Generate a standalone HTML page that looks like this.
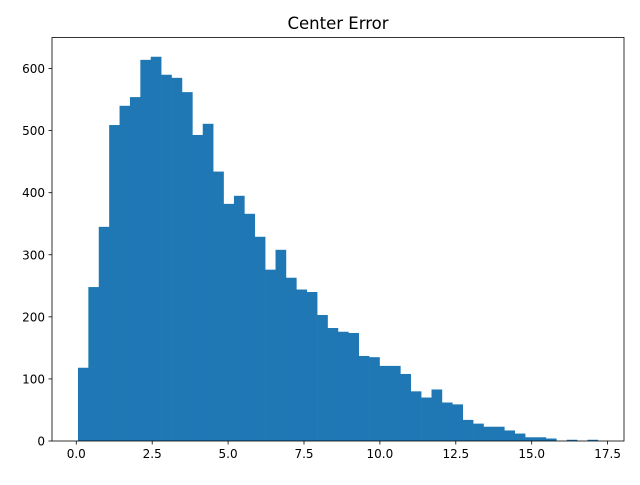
<!DOCTYPE html>
<html><head><meta charset="utf-8"><style>
body{margin:0;background:#fff;}
svg text{font-family:"DejaVu Sans","Liberation Sans",sans-serif;}
</style></head><body>
<svg id="chart" width="640" height="480" xmlns="http://www.w3.org/2000/svg">
<text x="338" y="29" font-size="16.5" text-anchor="middle">Center Error</text>
<g id="bars"></g>
<g id="axes"></g>
</svg>
<script>
const counts=[118,248,345,509,540,554,614,619,590,585,562,493,511,434,382,395,366,329,276,308,263,244,240,203,182,176,174,137,135,121,121,108,80,70,83,62,59,34,28,23,23,17,12,6,6,4,0,2,0,2];
const binStart=0.055;
const binEnd=17.18;
const xTicks=[0,2.5,5,7.5,10,12.5,15,17.5];
const xTickLabels=["0.0","2.5","5.0","7.5","10.0","12.5","15.0","17.5"];
const yTicks=[0,100,200,300,400,500,600];

const L=52,R=624,T=37.5,B=441;
const xmin=-0.80,xmax=18.04,ymax=650;
const X=v=>L+(v-xmin)/(xmax-xmin)*(R-L);
const Y=v=>B-v/ymax*(B-T);
const NS="http://www.w3.org/2000/svg";
const bars=document.getElementById('bars'),axes=document.getElementById('axes');
const w=(binEnd-binStart)/counts.length;
counts.forEach((c,i)=>{
  if(c<=0)return;
  const r=document.createElementNS(NS,'rect');
  
  
  const x0=X(binStart+i*w),x1=X(binStart+(i+1)*w);
  r.setAttribute('x',x0);r.setAttribute('width',x1-x0+0.3);
  r.setAttribute('y',Y(c));r.setAttribute('height',B-Y(c));
  r.setAttribute('fill','#1f77b4');
  bars.appendChild(r);
});
const frame=document.createElementNS(NS,'rect');


frame.setAttribute('x',L);frame.setAttribute('y',T);frame.setAttribute('width',R-L);frame.setAttribute('height',B-T);
frame.setAttribute('fill','none');frame.setAttribute('stroke','#000');frame.setAttribute('stroke-width','0.8');
axes.appendChild(frame);
xTicks.forEach((v,i)=>{
  const l=document.createElementNS(NS,'line');
  
  
  l.setAttribute('x1',X(v));l.setAttribute('x2',X(v));l.setAttribute('y1',B);l.setAttribute('y2',B+3.5);
  l.setAttribute('stroke','#000');l.setAttribute('stroke-width','0.8');axes.appendChild(l);
  const t=document.createElementNS(NS,'text');
  
  
  t.setAttribute('x',X(v));t.setAttribute('y',B+17);t.setAttribute('font-size','12');t.setAttribute('text-anchor','middle');
  t.textContent=xTickLabels[i];axes.appendChild(t);
});
yTicks.forEach(v=>{
  const l=document.createElementNS(NS,'line');
  
  
  l.setAttribute('x1',L-3.5);l.setAttribute('x2',L);l.setAttribute('y1',Y(v));l.setAttribute('y2',Y(v));
  l.setAttribute('stroke','#000');l.setAttribute('stroke-width','0.8');axes.appendChild(l);
  const t=document.createElementNS(NS,'text');
  
  
  t.setAttribute('x',L-7);t.setAttribute('y',Y(v)+4.5);t.setAttribute('font-size','12');t.setAttribute('text-anchor','end');
  t.textContent=v;axes.appendChild(t);
});
</script>
</body></html>
